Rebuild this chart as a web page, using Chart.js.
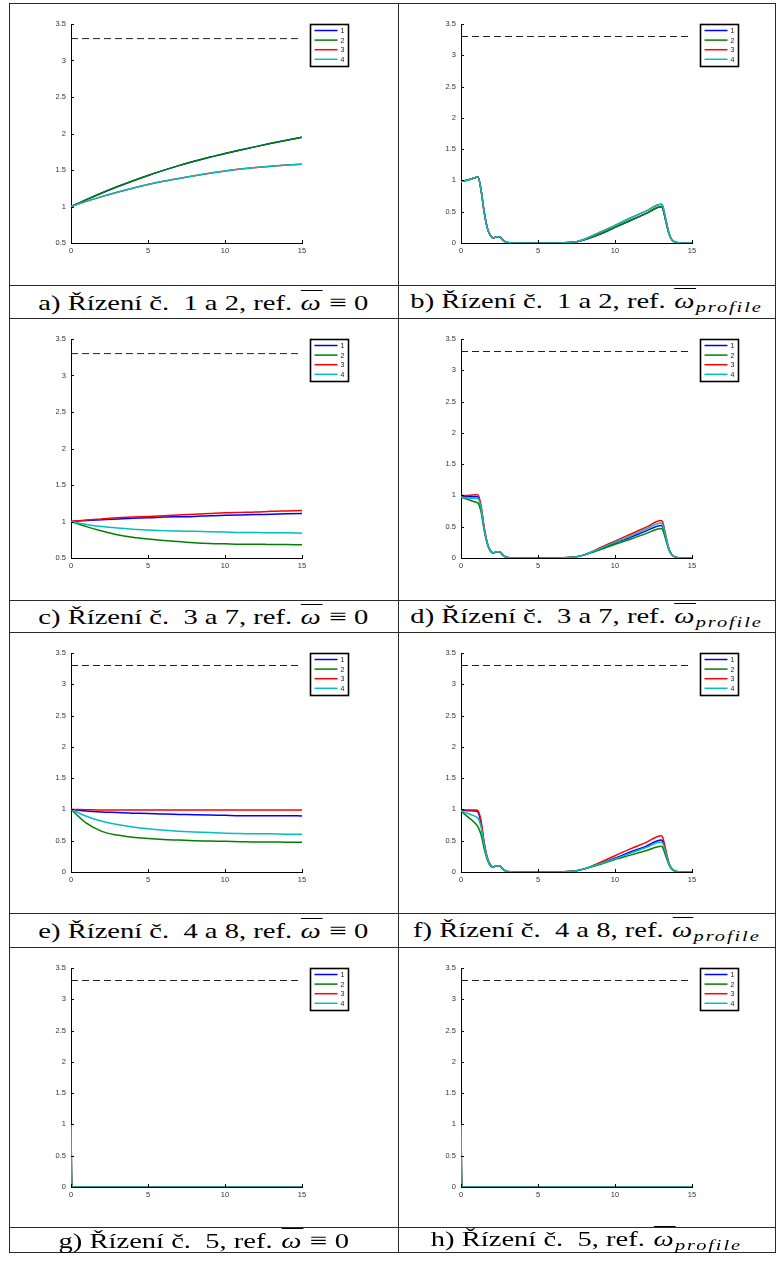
<!DOCTYPE html>
<html>
<head>
<meta charset="utf-8">
<script src="https://cdn.jsdelivr.net/npm/chart.js@4.4.1/dist/chart.umd.min.js"></script>
<style>
  body { margin: 0; background: #fff; }
  #page { position: relative; width: 777px; height: 1262px; overflow: hidden; }
  .hl, .vl { position: absolute; background: #2a2a2a; }
  .cap {
    position: absolute; display: flex; align-items: center; justify-content: center;
    font-family: "Liberation Serif", "DejaVu Serif", serif; font-size: 21px;
    white-space: nowrap; color: #000;
  }
  .cap .in { display: inline-block; transform: scaleX(1.36); padding-top: 2px; }
  .cap .w { position: relative; font-style: italic; padding: 0 1px; }
  .cap .w::before { content: ''; position: absolute; left: 1px; right: 0; top: -1px; border-top: 1.2px solid #000; }
  .cap .eq { font-size: 23px; }
  .cap sub { font-style: italic; font-size: 15px; vertical-align: -4px; letter-spacing: 1.4px; }
  canvas { position: absolute; }
</style>
</head>
<body>
<div id="page"></div>
<script>
// time axes
const timeSmooth = [0, 1, 2, 3, 4, 5, 6, 7, 8, 9, 10, 11, 12, 13, 14, 15];
const timeProfile = [0, 0.5, 1, 1.1, 1.3, 1.5, 1.7, 1.9, 2.1, 2.3, 2.5, 2.7, 3, 4, 5, 6, 7, 7.5,
                     8, 9, 10, 11, 12, 13, 13.1, 13.3, 13.5, 13.7, 14, 14.5, 15];
const timeStep = [0, 0.05, 15];

const seriesLabels = ['1', '2', '3', '4'];
const seriesColors = ['#0000ff', '#008000', '#ff0000', '#00bfbf'];
const limitValue = 3.3;

// a) control 1 and 2, ref 0
const a1 = [1.00, 1.095, 1.185, 1.27, 1.35, 1.425, 1.495, 1.56, 1.62, 1.675, 1.725, 1.773, 1.82, 1.865, 1.908, 1.95];
const a2 = [1.00, 1.095, 1.185, 1.27, 1.35, 1.425, 1.495, 1.56, 1.62, 1.675, 1.725, 1.773, 1.82, 1.865, 1.908, 1.95];
const a3 = [1.00, 1.07, 1.135, 1.195, 1.25, 1.30, 1.345, 1.385, 1.422, 1.456, 1.487, 1.513, 1.535, 1.553, 1.568, 1.58];
const a4 = [1.00, 1.07, 1.135, 1.195, 1.25, 1.30, 1.345, 1.385, 1.422, 1.456, 1.487, 1.513, 1.535, 1.553, 1.568, 1.58];

// b) control 1 and 2, ref profile
const b1 = [0.98, 1.01, 1.05, 1.06, 0.85, 0.50, 0.25, 0.12, 0.08, 0.10, 0.10, 0.05, 0.01, 0, 0, 0, 0.01, 0.02,
            0.05, 0.14, 0.25, 0.36, 0.47, 0.58, 0.55, 0.35, 0.15, 0.05, 0.01, 0, 0];
const b2 = [0.98, 1.01, 1.05, 1.06, 0.85, 0.50, 0.25, 0.12, 0.08, 0.10, 0.10, 0.05, 0.01, 0, 0, 0, 0.01, 0.02,
            0.05, 0.14, 0.25, 0.36, 0.47, 0.58, 0.55, 0.35, 0.15, 0.05, 0.01, 0, 0];
const b3 = [0.98, 1.01, 1.05, 1.06, 0.85, 0.50, 0.25, 0.12, 0.08, 0.10, 0.10, 0.05, 0.01, 0, 0, 0, 0.01, 0.02,
            0.06, 0.17, 0.28, 0.40, 0.51, 0.62, 0.59, 0.38, 0.16, 0.05, 0.01, 0, 0];
const b4 = [0.98, 1.01, 1.05, 1.06, 0.85, 0.50, 0.25, 0.12, 0.08, 0.10, 0.10, 0.05, 0.01, 0, 0, 0, 0.01, 0.02,
            0.06, 0.17, 0.28, 0.40, 0.51, 0.62, 0.59, 0.38, 0.16, 0.05, 0.01, 0, 0];

// c) control 3 and 7, ref 0
const c1 = [1.00, 1.015, 1.025, 1.035, 1.045, 1.05, 1.06, 1.065, 1.07, 1.08, 1.085, 1.09, 1.095, 1.10, 1.105, 1.11];
const c2 = [1.00, 0.93, 0.87, 0.82, 0.785, 0.76, 0.74, 0.725, 0.71, 0.70, 0.695, 0.69, 0.69, 0.685, 0.685, 0.68];
const c3 = [1.00, 1.02, 1.035, 1.05, 1.06, 1.07, 1.08, 1.09, 1.10, 1.11, 1.12, 1.125, 1.13, 1.14, 1.145, 1.15];
const c4 = [1.00, 0.96, 0.93, 0.91, 0.895, 0.885, 0.875, 0.87, 0.865, 0.86, 0.855, 0.85, 0.85, 0.845, 0.845, 0.84];

// d) control 3 and 7, ref profile
const d1 = [0.98, 0.98, 0.98, 0.98, 0.80, 0.48, 0.24, 0.12, 0.08, 0.10, 0.10, 0.05, 0.01, 0, 0, 0, 0.01, 0.02,
            0.05, 0.14, 0.24, 0.33, 0.43, 0.52, 0.50, 0.32, 0.14, 0.05, 0.01, 0, 0];
const d2 = [0.97, 0.93, 0.89, 0.88, 0.74, 0.45, 0.23, 0.11, 0.08, 0.10, 0.10, 0.05, 0.01, 0, 0, 0, 0.01, 0.02,
            0.05, 0.13, 0.22, 0.30, 0.39, 0.47, 0.45, 0.29, 0.13, 0.05, 0.01, 0, 0];
const d3 = [1.00, 1.00, 1.01, 1.01, 0.84, 0.50, 0.25, 0.12, 0.08, 0.10, 0.10, 0.05, 0.01, 0, 0, 0, 0.01, 0.02,
            0.05, 0.16, 0.27, 0.38, 0.49, 0.60, 0.57, 0.36, 0.15, 0.05, 0.01, 0, 0];
const d4 = [0.97, 0.96, 0.95, 0.95, 0.80, 0.48, 0.24, 0.12, 0.08, 0.10, 0.10, 0.05, 0.01, 0, 0, 0, 0.01, 0.02,
            0.05, 0.15, 0.25, 0.35, 0.46, 0.56, 0.53, 0.34, 0.14, 0.05, 0.01, 0, 0];

// e) control 4 and 8, ref 0
const e1 = [1.00, 0.975, 0.96, 0.95, 0.94, 0.935, 0.925, 0.92, 0.915, 0.91, 0.905, 0.90, 0.90, 0.90, 0.90, 0.895];
const e2 = [1.00, 0.78, 0.65, 0.59, 0.555, 0.535, 0.52, 0.51, 0.50, 0.495, 0.49, 0.485, 0.48, 0.48, 0.475, 0.475];
const e3 = [1.00, 0.995, 0.99, 0.99, 0.99, 0.99, 0.99, 0.99, 0.99, 0.99, 0.99, 0.99, 0.99, 0.99, 0.99, 0.99];
const e4 = [1.00, 0.89, 0.81, 0.76, 0.72, 0.69, 0.67, 0.65, 0.64, 0.63, 0.62, 0.615, 0.61, 0.61, 0.605, 0.605];

// f) control 4 and 8, ref profile
const f1 = [0.99, 0.98, 0.97, 0.96, 0.78, 0.46, 0.23, 0.11, 0.08, 0.10, 0.10, 0.05, 0.01, 0, 0, 0, 0.01, 0.02,
            0.05, 0.13, 0.22, 0.32, 0.41, 0.51, 0.49, 0.31, 0.13, 0.05, 0.01, 0, 0];
const f2 = [0.97, 0.87, 0.76, 0.72, 0.60, 0.38, 0.20, 0.10, 0.08, 0.10, 0.10, 0.05, 0.01, 0, 0, 0, 0.01, 0.02,
            0.05, 0.12, 0.20, 0.27, 0.34, 0.41, 0.39, 0.25, 0.12, 0.04, 0.01, 0, 0];
const f3 = [1.00, 0.99, 0.99, 0.98, 0.82, 0.48, 0.24, 0.12, 0.08, 0.10, 0.10, 0.05, 0.01, 0, 0, 0, 0.01, 0.02,
            0.05, 0.15, 0.26, 0.37, 0.47, 0.58, 0.55, 0.35, 0.15, 0.05, 0.01, 0, 0];
const f4 = [0.98, 0.93, 0.88, 0.86, 0.72, 0.44, 0.22, 0.11, 0.08, 0.10, 0.10, 0.05, 0.01, 0, 0, 0, 0.01, 0.02,
            0.05, 0.13, 0.21, 0.30, 0.39, 0.48, 0.46, 0.30, 0.13, 0.05, 0.01, 0, 0];

// g, h) control 5 - everything drops to zero at once
const g1 = [1, 0, 0], g2 = [1, 0, 0], g3 = [1, 0, 0], g4 = [1, 0, 0];
const h1 = [1, 0, 0], h2 = [1, 0, 0], h3 = [1, 0, 0], h4 = [1, 0, 0];

const W0 = '<span class="w">ω</span> <span class="eq">≡</span> 0';
const WP = '<span class="w">ω</span><sub>profile</sub>';
const panels = [
  { t: timeSmooth,  s: [a1, a2, a3, a4], yMin: 0.5, cap: 'a) Řízení č.&ensp;1 a 2, ref. ' + W0 },
  { t: timeProfile, s: [b1, b2, b3, b4], yMin: 0,   cap: 'b) Řízení č.&ensp;1 a 2, ref. ' + WP },
  { t: timeSmooth,  s: [c1, c2, c3, c4], yMin: 0.5, cap: 'c) Řízení č.&ensp;3 a 7, ref. ' + W0 },
  { t: timeProfile, s: [d1, d2, d3, d4], yMin: 0,   cap: 'd) Řízení č.&ensp;3 a 7, ref. ' + WP },
  { t: timeSmooth,  s: [e1, e2, e3, e4], yMin: 0,   cap: 'e) Řízení č.&ensp;4 a 8, ref. ' + W0 },
  { t: timeProfile, s: [f1, f2, f3, f4], yMin: 0,   cap: 'f) Řízení č.&ensp;4 a 8, ref. ' + WP },
  { t: timeStep,    s: [g1, g2, g3, g4], yMin: 0,   cap: 'g) Řízení č.&ensp;5, ref. ' + W0 },
  { t: timeStep,    s: [h1, h2, h3, h4], yMin: 0,   cap: 'h) Řízení č.&ensp;5, ref. ' + WP }
];

// table geometry
const rowTop = [3, 318, 632, 947];
const capTop = [285, 600, 913, 1227];
const capBottom = [318, 632, 947, 1252];
const colX = [9, 398, 775];
const axisX = [71, 461];
const plotW = 231, plotH = 219, plotOffTop = 21;
const yAxisW = 30, xAxisH = 18;

const page = document.getElementById('page');
function line(cls, l, t, w, h) {
  const d = document.createElement('div');
  d.className = cls;
  Object.assign(d.style, { left: l + 'px', top: t + 'px', width: w + 'px', height: h + 'px' });
  page.appendChild(d);
}
[rowTop[0], ...capTop, ...capBottom].forEach(y => line('hl', colX[0], y, colX[2] - colX[0] + 1, 1));
colX.forEach(x => line('vl', x, rowTop[0], 1, capBottom[3] - rowTop[0] + 1));

const tickFont = { family: '"Liberation Sans", Arial, sans-serif', size: 7.5 };

// MATLAB-ish: ticks pointing inward and a boxed legend beside the axes
const matlabLook = {
  id: 'matlabLook',
  afterDatasetsDraw(chart) {
    const { ctx, chartArea: a, scales: { x, y } } = chart;
    ctx.save();
    ctx.strokeStyle = '#000';
    ctx.lineWidth = 1;
    ctx.beginPath();
    y.ticks.forEach(tk => {
      const py = Math.round(y.getPixelForValue(tk.value)) + 0.5;
      ctx.moveTo(a.left, py); ctx.lineTo(a.left + 3, py);
    });
    x.ticks.forEach(tk => {
      const px = Math.round(x.getPixelForValue(tk.value)) + 0.5;
      ctx.moveTo(px, a.bottom); ctx.lineTo(px, a.bottom - 3);
    });
    ctx.stroke();

    const bx = Math.round(a.right) + 8.5, by = Math.round(a.top) + 0.5, bw = 38, bh = 42;
    ctx.fillStyle = '#fff';
    ctx.fillRect(bx, by, bw, bh);
    ctx.lineWidth = 1.6;
    ctx.strokeRect(bx, by, bw, bh);
    ctx.font = '7px "Liberation Sans", Arial, sans-serif';
    ctx.textBaseline = 'middle';
    chart.data.datasets.filter(d => d.label).forEach((d, i) => {
      const ly = by + 6 + i * 9.6;
      ctx.strokeStyle = d.borderColor;
      ctx.lineWidth = 1.5;
      ctx.beginPath(); ctx.moveTo(bx + 4, ly); ctx.lineTo(bx + 27, ly); ctx.stroke();
      ctx.fillStyle = '#222';
      ctx.fillText(d.label, bx + 30, ly + 0.5);
    });
    ctx.restore();
  }
};

panels.forEach((p, k) => {
  const r = Math.floor(k / 2), c = k % 2;
  const cl = colX[c] + 1, ct = rowTop[r] + 1;
  const cw = colX[c + 1] - colX[c] - 1, ch = capTop[r] - rowTop[r] - 1;
  const areaL = axisX[c] - cl, areaT = rowTop[r] + plotOffTop - ct;

  const cv = document.createElement('canvas');
  cv.width = cw; cv.height = ch;
  cv.style.left = cl + 'px'; cv.style.top = ct + 'px';
  page.appendChild(cv);

  const cap = document.createElement('div');
  cap.className = 'cap';
  Object.assign(cap.style, {
    left: colX[c] + 'px', top: capTop[r] + 'px',
    width: (colX[c + 1] - colX[c]) + 'px', height: (capBottom[r] - capTop[r]) + 'px'
  });
  cap.innerHTML = '<span class="in">' + p.cap + '</span>';
  page.appendChild(cap);

  const datasets = p.s.map((vals, i) => ({
    label: seriesLabels[i],
    data: p.t.map((x, j) => ({ x, y: vals[j] })),
    borderColor: seriesColors[i],
    borderWidth: 1.5,
    cubicInterpolationMode: 'monotone',
    order: 4 - i
  }));
  datasets.push({
    label: '',
    data: [{ x: 0, y: limitValue }, { x: 15, y: limitValue }],
    borderColor: '#222',
    borderWidth: 1,
    borderDash: [7, 4],
    order: 10
  });

  new Chart(cv, {
    type: 'line',
    data: { datasets },
    options: {
      animation: false,
      responsive: false,
      devicePixelRatio: 1,
      layout: {
        padding: {
          left: areaL - yAxisW,
          top: areaT,
          right: cw - (areaL + plotW),
          bottom: ch - (areaT + plotH) - xAxisH
        }
      },
      elements: { point: { radius: 0 } },
      plugins: { legend: { display: false }, tooltip: { enabled: false } },
      scales: {
        x: {
          type: 'linear', min: 0, max: 15,
          ticks: { stepSize: 5, padding: 3, font: tickFont, color: '#333', maxRotation: 0 },
          grid: { display: false, drawTicks: false },
          border: { color: '#000', width: 1 },
          afterFit: s => { s.height = xAxisH; }
        },
        y: {
          min: p.yMin, max: 3.5,
          ticks: { stepSize: 0.5, padding: 5, font: tickFont, color: '#333', callback: v => String(+v) },
          grid: { display: false, drawTicks: false },
          border: { color: '#000', width: 1 },
          afterFit: s => { s.width = yAxisW; }
        }
      }
    },
    plugins: [matlabLook]
  });
});
</script>
</body>
</html>
